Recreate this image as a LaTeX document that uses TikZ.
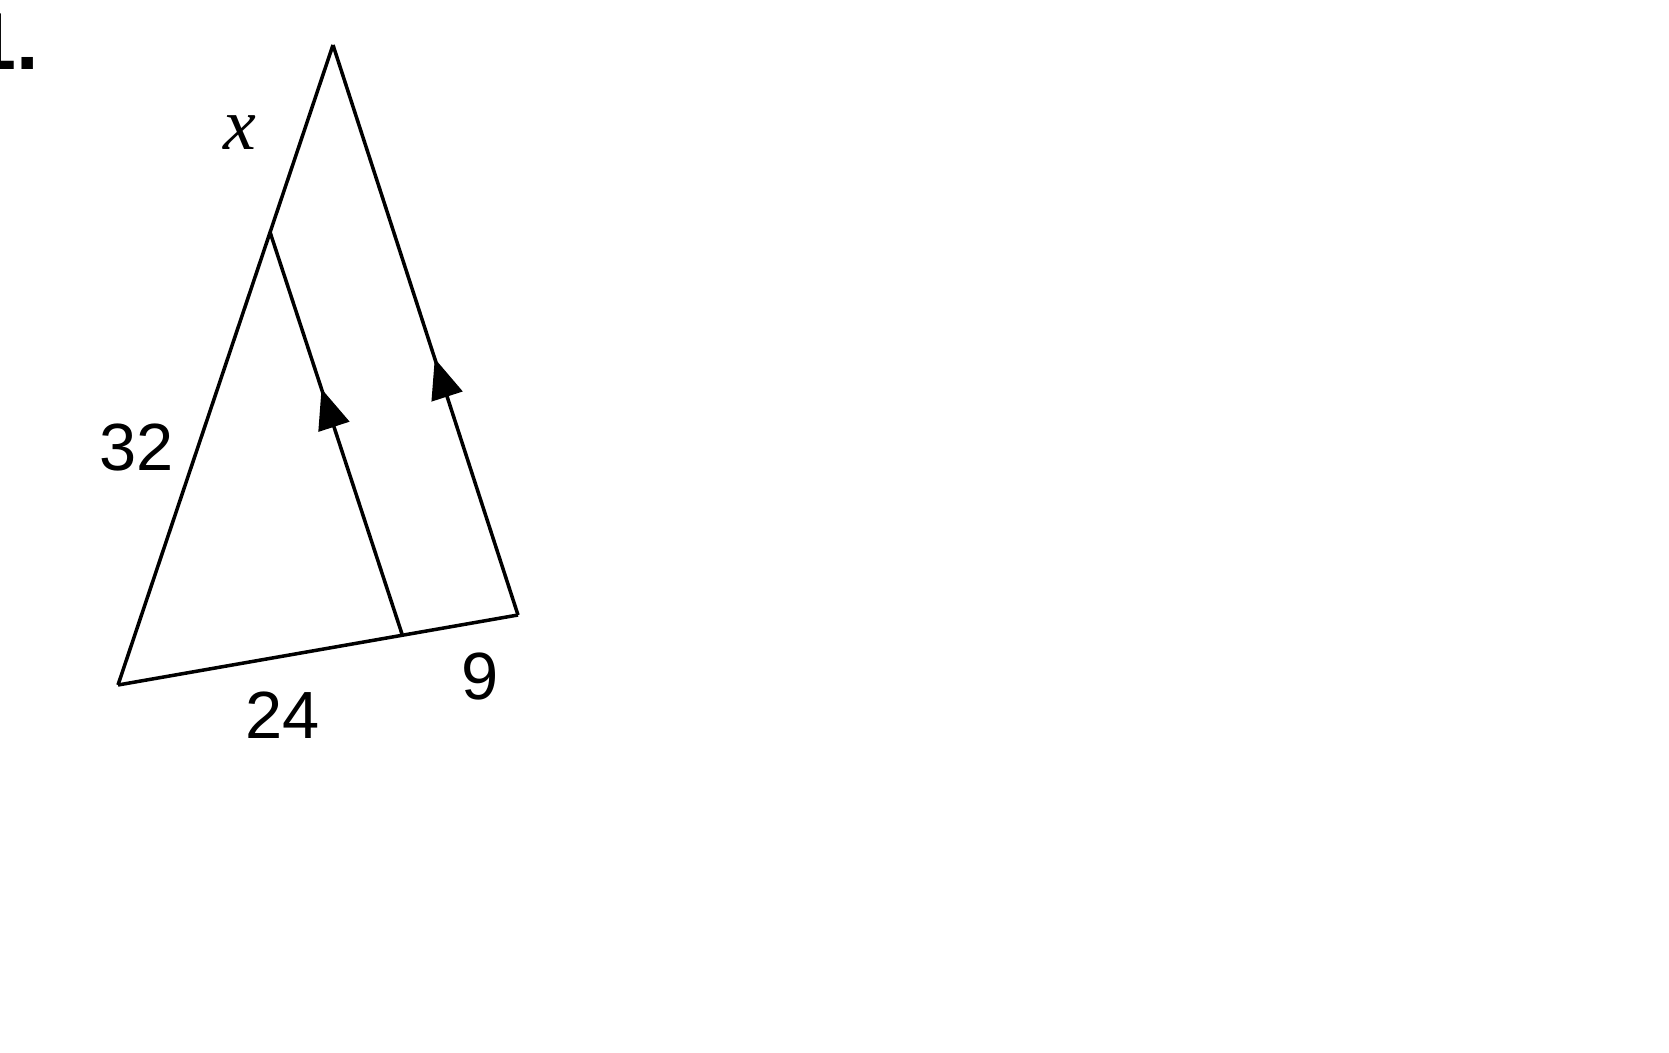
\documentclass[tikz,border=0pt]{standalone}
\usepackage{fontspec}
\setmainfont{Liberation Sans}
\newfontfamily\timesfont{Liberation Serif}
\usetikzlibrary{decorations.markings,arrows.meta}

\tikzset{
  side/.style={line width=1pt, line join=round},
  upmark/.style={side, postaction={decorate}, decoration={markings,
      mark=at position #1 with {\arrow{Triangle[length=4mm,width=3.2mm]}}}},
  lbl/.style={inner sep=0pt, font=\fontsize{19}{22}\selectfont}
}

\begin{document}
\begin{tikzpicture}[x=0.1mm,y=0.1mm,yscale=-1,xscale=1]
        \useasboundingbox (0,0) rectangle (1669,1053);

        % Corners of the triangle
        \coordinate (A) at (333,45);
        \coordinate (B) at (118,685);
        \coordinate (C) at (518,615);
        % Ends of the inner segment
        \coordinate (D) at (270,232);
        \coordinate (E) at (402,634);

        % Triangle
        \draw [side] (B) -- (A);
        \draw [side] (B) -- (C);
        % Parallel sides
        \draw [upmark=0.45] (C) -- (A);
        \draw [upmark=0.61] (E) -- (D);

        % Text Node
        \node (num) [anchor=base east, inner sep=0pt, font=\bfseries\fontsize{23}{26}\selectfont] at (40,70) {1.};
        % Text Node
        \node (lblx) [lbl, font=\timesfont\itshape\fontsize{21}{24}\selectfont] at (240,133) {x};
        % Text Node
        \node (lbl32) [lbl] at (137,448) {32};
        % Text Node
        \node (lbl24) [lbl] at (283,715) {24};
        % Text Node
        \node (lbl9) [lbl] at (480,677) {9};

\end{tikzpicture}
\end{document}
